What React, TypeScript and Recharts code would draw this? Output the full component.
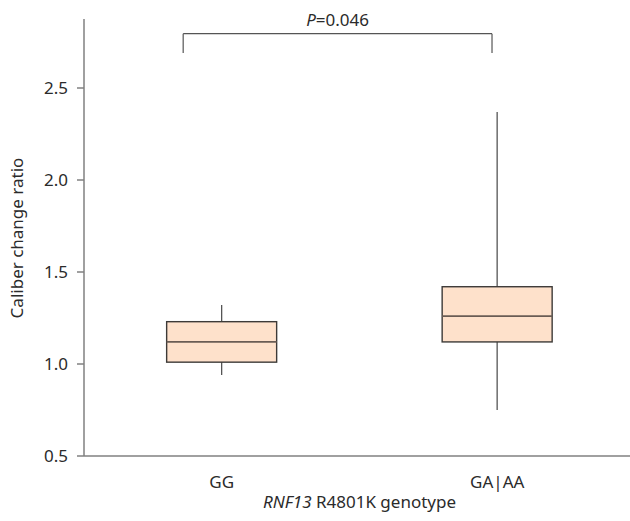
import React from "react";
import {
    ComposedChart,
    Bar,
    XAxis,
    YAxis,
    ReferenceLine,
} from "recharts";

// genotype groups and box-plot statistics
const groups = ["GG", "GA|AA"];
const groupPos = [0.5, 1.5];
const whiskerLow = [0.94, 0.75];
const q1 = [1.01, 1.12];
const median = [1.12, 1.26];
const q3 = [1.23, 1.42];
const whiskerHigh = [1.32, 2.37];

const yTicks = [0.5, 1.0, 1.5, 2.0, 2.5];
const yDomain = [0.5, 2.875];

// significance bracket (hidden numeric axis 0..2, one unit per group)
const bracketX = [0.36, 1.481];
const bracketTop = 2.795;
const bracketFoot = 2.69;
const pText = "=0.046";

const data = groups.map((g, i) => ({
    name: g,
    pos: groupPos[i],
    range: [whiskerLow[i], whiskerHigh[i]],
    q1: q1[i],
    median: median[i],
    q3: q3[i],
}));

const FONT = "'Noto Sans', sans-serif";
const FS = 17;
const AXIS = "#808080";
const TEXT = "#2b2b2b";

function BoxShape(props: any) {
    const { x, y, width, height, payload } = props;
    const [lo, hi] = payload.range;
    const ppu = height / (hi - lo);
    const toY = (v: number) => y + (hi - v) * ppu;
    const cx = x + width / 2;
    return (
        <g>
            <line x1={cx} x2={cx} y1={y} y2={y + height} stroke="#555" strokeWidth={1.3} />
            <rect
                x={x}
                y={toY(payload.q3)}
                width={width}
                height={toY(payload.q1) - toY(payload.q3)}
                fill="#FEE1CB"
                stroke="#3d3a38"
                strokeWidth={1.4}
            />
            <line
                x1={x}
                x2={x + width}
                y1={toY(payload.median)}
                y2={toY(payload.median)}
                stroke="#6a5c54"
                strokeWidth={1.6}
            />
        </g>
    );
}

function PLabel(props: any) {
    const vb = props.viewBox || {};
    const cx = vb.x1 !== undefined ? (vb.x1 + vb.x2) / 2 : vb.x + (vb.width || 0) / 2;
    const y = vb.y1 !== undefined ? vb.y1 : vb.y;
    return (
        <text x={cx} y={y - 8} textAnchor="middle" fontFamily={FONT} fontSize={FS} fill={TEXT}>
            <tspan fontStyle="italic">P</tspan>
            {pText}
        </text>
    );
}

export default function App() {
    return (
        <div
            style={{
                position: "absolute",
                left: 0,
                top: 0,
                width: 630,
                height: 521,
                overflow: "hidden",
                background: "#fff",
            }}
        >
            <ComposedChart
                width={640}
                height={521}
                data={data}
                margin={{ top: 19, right: 5, bottom: 0, left: 0 }}
                barCategoryGap="30%"
            >
                <XAxis
                    dataKey="name"
                    stroke={AXIS}
                    strokeWidth={1.5}
                    tickLine={false}
                    tickMargin={14}
                    height={65}
                    tick={{ fontSize: FS, fill: TEXT, fontFamily: FONT }}
                    label={(p: any) => {
                        const vb = p.viewBox;
                        return (
                            <text
                                x={vb.x + vb.width / 2}
                                y={vb.y + 52}
                                textAnchor="middle"
                                fontFamily={FONT}
                                fontSize={FS}
                                fill={TEXT}
                            >
                                <tspan fontStyle="italic">RNF13</tspan> R4801K genotype
                            </text>
                        );
                    }}
                />
                <XAxis
                    xAxisId="num"
                    dataKey="pos"
                    type="number"
                    domain={[0, 2]}
                    allowDataOverflow
                    hide
                />
                <YAxis
                    domain={yDomain}
                    ticks={yTicks}
                    tickFormatter={(v: number) => v.toFixed(1)}
                    width={84}
                    stroke={AXIS}
                    strokeWidth={1.5}
                    tickSize={7}
                    tickMargin={9}
                    tick={{ fontSize: FS, fill: TEXT, fontFamily: FONT }}
                    allowDataOverflow
                    label={() => (
                        <text
                            x={23}
                            y={238}
                            transform="rotate(-90, 23, 238)"
                            textAnchor="middle"
                            fontFamily={FONT}
                            fontSize={FS}
                            fill={TEXT}
                        >
                            Caliber change ratio
                        </text>
                    )}
                />
                <Bar dataKey="range" shape={<BoxShape />} isAnimationActive={false} />
                <ReferenceLine
                    xAxisId="num"
                    ifOverflow="visible"
                    segment={[
                        { x: bracketX[0], y: bracketTop },
                        { x: bracketX[1], y: bracketTop },
                    ]}
                    stroke="#555"
                    strokeWidth={1.2}
                    label={<PLabel />}
                />
                <ReferenceLine
                    xAxisId="num"
                    ifOverflow="visible"
                    segment={[
                        { x: bracketX[0], y: bracketTop },
                        { x: bracketX[0], y: bracketFoot },
                    ]}
                    stroke="#555"
                    strokeWidth={1.2}
                />
                <ReferenceLine
                    xAxisId="num"
                    ifOverflow="visible"
                    segment={[
                        { x: bracketX[1], y: bracketTop },
                        { x: bracketX[1], y: bracketFoot },
                    ]}
                    stroke="#555"
                    strokeWidth={1.2}
                />
            </ComposedChart>
        </div>
    );
}
